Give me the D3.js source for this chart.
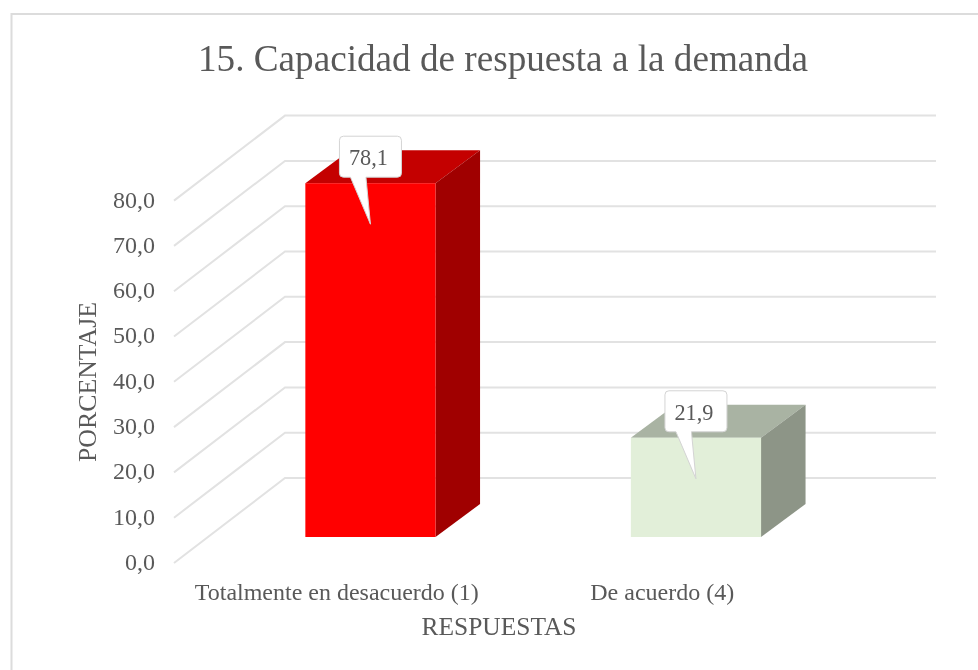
<!DOCTYPE html>
<html>
<head>
<meta charset="utf-8">
<script src="https://cdnjs.cloudflare.com/ajax/libs/d3/7.8.5/d3.min.js"></script>
<style>
html,body{margin:0;padding:0;background:#fff}
svg{display:block;filter:blur(0.45px)}
text{font-family:"Liberation Serif","Times New Roman",serif;fill:#595959}
</style>
</head>
<body>
<svg id="c" width="978" height="670"></svg>
<script>
const categories = ["Totalmente en desacuerdo (1)", "De acuerdo (4)"];
const values = [78.1, 21.9];
const valueLabels = ["78,1", "21,9"];
const yTicks = [0, 10, 20, 30, 40, 50, 60, 70, 80];
const frontColors = ["#ff0000", "#e2efd9"];
const topColors = ["#c40000", "#a9b3a3"];
const sideColors = ["#a00000", "#8d9587"];
const categoryLabelWidths = [284, 144];

const svg = d3.select("#c");

svg.append("rect").attr("x", 11.5).attr("y", 14).attr("width", 980).attr("height", 680)
  .attr("fill", "#fff").attr("stroke", "#dcdcdc").attr("stroke-width", 2);

const wallDx = 111, wallDy = -85;
const barDx = 44.5, barDy = -33;
const y = d3.scaleLinear().domain([0, 80]).range([537, 537 - 80 * 4.53]);
const baseShift = 26;
const yFront = v => y(v) + baseShift;
const xFront = d3.scaleBand().domain(categories).range([174, 825]);
const xBar = d3.scaleBand().domain(categories).range([207.7, 858.7]).paddingInner(0.6).paddingOuter(0.3);

const grid = svg.append("g").attr("fill", "none").attr("stroke", "#e2e2e2").attr("stroke-width", 2);
grid.selectAll("path").data(yTicks).join("path").attr("d", v => {
  const p = d3.path();
  p.moveTo(174, yFront(v));
  p.lineTo(174 + wallDx, yFront(v) + wallDy);
  p.lineTo(936, yFront(v) + wallDy);
  return p.toString();
});

const yAxisScale = d3.scaleLinear().domain([0, 80]).range([yFront(0), yFront(80)]);
const yAxis = svg.append("g").attr("transform", "translate(155,0)")
  .call(d3.axisLeft(yAxisScale).tickValues(yTicks).tickSize(0).tickPadding(0)
    .tickFormat(v => d3.format(".1f")(v).replace(".", ",")));
yAxis.select(".domain").remove();
yAxis.attr("font-family", null).attr("font-size", null);
yAxis.selectAll("text").attr("font-size", 24).attr("dy", "0.27em");

const xAxis = svg.append("g").attr("transform", "translate(0,592)")
  .call(d3.axisBottom(xFront).tickSize(0).tickPadding(0));
xAxis.select(".domain").remove();
xAxis.attr("font-family", null).attr("font-size", null);
xAxis.selectAll("text").attr("font-size", 24).attr("y", 0).attr("dy", "0.33em")
  .attr("textLength", (d, i) => categoryLabelWidths[i]).attr("lengthAdjust", "spacingAndGlyphs");

const bars = svg.append("g").selectAll("g").data(categories).join("g");
bars.append("path").attr("fill", (d, i) => topColors[i]).attr("d", (d, i) => {
  const x0 = xBar(d), x1 = x0 + xBar.bandwidth(), t = y(values[i]);
  return `M${x0},${t}L${x0 + barDx},${t + barDy}L${x1 + barDx},${t + barDy}L${x1},${t}Z`;
});
bars.append("path").attr("fill", (d, i) => sideColors[i]).attr("d", (d, i) => {
  const x1 = xBar(d) + xBar.bandwidth(), t = y(values[i]), b = y(0);
  return `M${x1},${t}L${x1 + barDx},${t + barDy}L${x1 + barDx},${b + barDy}L${x1},${b}Z`;
});
bars.append("rect").attr("fill", (d, i) => frontColors[i])
  .attr("x", d => xBar(d)).attr("width", xBar.bandwidth())
  .attr("y", (d, i) => y(values[i])).attr("height", (d, i) => y(0) - y(values[i]));

const call = svg.append("g").selectAll("g").data(categories).join("g")
  .attr("transform", (d, i) => `translate(${xBar(d) + xBar.bandwidth() / 2},${y(values[i])})`);
call.append("path")
  .attr("fill", "#fff").attr("stroke", "#d4d4d4").attr("stroke-width", 1)
  .attr("d", "M-27,-47H27Q31,-47 31,-43V-10Q31,-6 27,-6H-4.5L0,41L-20,-6H-27Q-31,-6 -31,-10V-43Q-31,-47 -27,-47Z");
call.append("text").attr("text-anchor", "middle").attr("x", -2).attr("y", -18).attr("font-size", 24)
  .attr("textLength", 39).attr("lengthAdjust", "spacingAndGlyphs")
  .text((d, i) => valueLabels[i]);

svg.append("text").attr("x", 503).attr("y", 70.5).attr("text-anchor", "middle").attr("font-size", 37)
  .attr("textLength", 610).attr("lengthAdjust", "spacingAndGlyphs")
  .text("15. Capacidad de respuesta a la demanda");
svg.append("text").attr("x", 499).attr("y", 635).attr("text-anchor", "middle").attr("font-size", 25)
  .attr("textLength", 155).attr("lengthAdjust", "spacingAndGlyphs")
  .text("RESPUESTAS");
svg.append("text").attr("transform", "translate(96,382) rotate(-90)").attr("text-anchor", "middle").attr("font-size", 25)
  .attr("textLength", 160).attr("lengthAdjust", "spacingAndGlyphs")
  .text("PORCENTAJE");
</script>
</body>
</html>
